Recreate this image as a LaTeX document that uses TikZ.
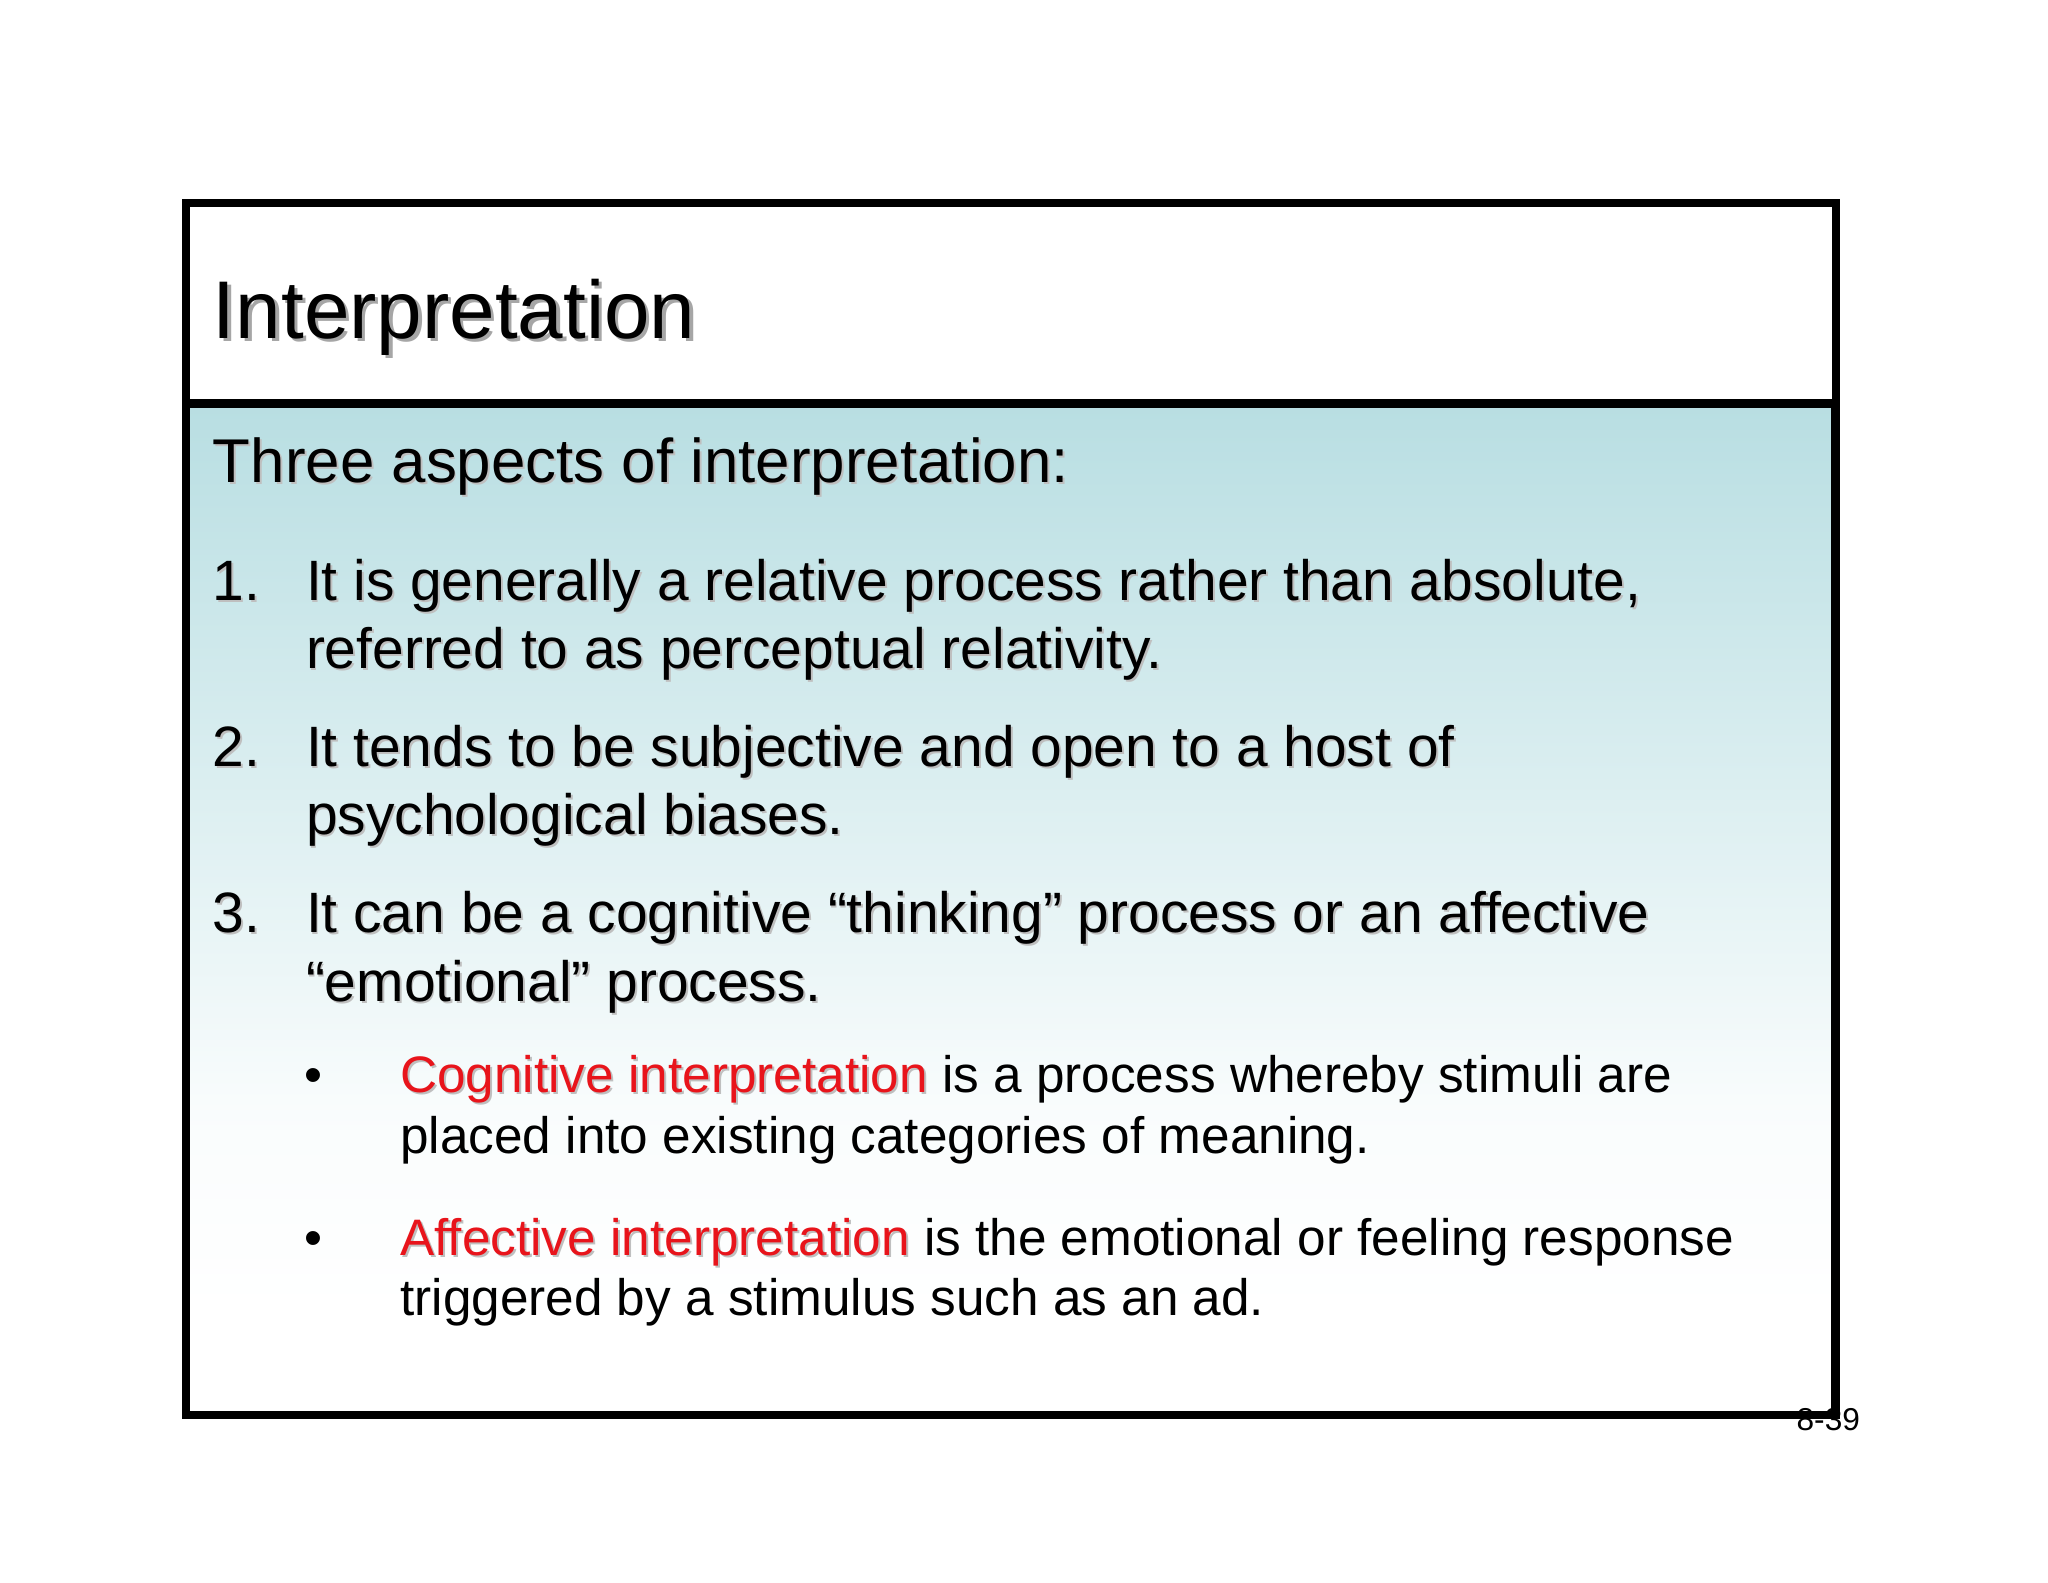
\documentclass[tikz,border=0pt]{standalone}
\usepackage{fontspec}
\setmainfont{Liberation Sans}
\definecolor{teal0}{HTML}{B8DEE2}
\definecolor{red0}{HTML}{E8141B}
\begin{document}
\begin{tikzpicture}[x=0.0131cm,y=-0.0131cm,
  txt/.style={anchor=base west,inner sep=0pt,font=\fontsize{16.2}{19}\selectfont},
  sub/.style={anchor=base west,inner sep=0pt,font=\fontsize{14.6}{17}\selectfont},
  shad/.style={text=black!25}]
\useasboundingbox (0,0) rectangle (1563,1208);
\fill[white] (0,0) rectangle (1563,1208);
\shade[top color=teal0,bottom color=white,middle color=teal0!45] (142,307) rectangle (1401,1080);
\fill[white] (142,1000) rectangle (1401,1080);
\shade[top color=teal0!8,bottom color=white] (142,850) rectangle (1401,1000);
\shade[top color=teal0,bottom color=teal0!8] (142,307) rectangle (1401,850);
\draw[line width=2.2pt] (142,155) rectangle (1401,1080);
\draw[line width=2.6pt] (142,308) -- (1401,308);
\draw[line width=2.6pt] (1401,308) -- (1401,1080);
% title
\node[shad,text=black!35,anchor=base west,inner sep=0pt,font=\fontsize{23.3}{28}\selectfont] at (164.5,260.5) {Interpretation};
\node (title) [anchor=base west,inner sep=0pt,font=\fontsize{23.3}{28}\selectfont] at (162,258) {Interpretation};
% body
\node[txt,shad,font=\fontsize{17.6}{20}\selectfont] at (163.5,369.5) {Three aspects of interpretation:};
\node (head) [txt,font=\fontsize{17.6}{20}\selectfont] at (162,368) {Three aspects of interpretation:};
\foreach \x/\y/\t in {
  162/458/{1.}, 233/458/{It is generally a relative process rather than absolute,},
  233/510/{referred to as perceptual relativity.},
  162/585/{2.}, 233/585/{It tends to be subjective and open to a host of},
  233/637/{psychological biases.},
  162/712/{3.}, 233/712/{It can be a cognitive “thinking” process or an affective},
  233/764/{“emotional” process.}}{
  \node[txt,shad] at (\x+1.5,\y+1.5) {\t};
  \node[txt] at (\x,\y) {\t};
}
\node (b1) [sub] at (232,834) {•};
\node[sub,shad] at (306.5,835.5) {Cognitive interpretation};
\node (c1) [sub] at (305,834) {\textcolor{red0}{Cognitive interpretation} is a process whereby stimuli are};
\node[sub] at (305,880) {placed into existing categories of meaning.};
\node (b2) [sub] at (232,958) {•};
\node[sub,shad] at (306.5,959.5) {Affective interpretation};
\node (c2) [sub] at (305,958) {\textcolor{red0}{Affective interpretation} is the emotional or feeling response};
\node[sub] at (305,1004) {triggered by a stimulus such as an ad.};
\node (pg) [anchor=base east,inner sep=0pt,font=\fontsize{9}{10}\selectfont] at (1420,1092) {8-39};
\end{tikzpicture}
\end{document}
